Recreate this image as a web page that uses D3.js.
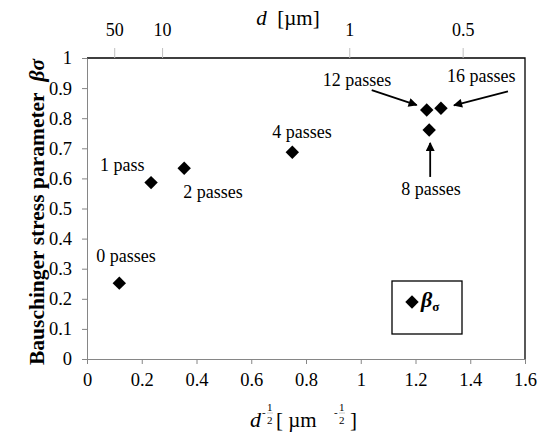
<!DOCTYPE html>
<html lang='en'>
    <head>
        <meta charset="utf-8">
        <script src="https://d3js.org/d3.v7.min.js"></script>
        <style>
            *{
                margin:0;
                padding:0
            }
            body{
                background-color:white;
            }
            svg{
                display:block;
                font-family:'Liberation Serif','Times New Roman',serif;
            }
            .tick text{
                font-family:'Liberation Serif','Times New Roman',serif;
                font-size:18.5px;
                fill:black;
            }
        </style>
    </head>
    <body>
        <script>
            // values: x = d^-1/2, y = beta sigma
            const passes=['0 passes','1 pass','2 passes','4 passes','8 passes','12 passes','16 passes'];
            const xVals=[0.118,0.234,0.355,0.75,1.25,1.241,1.293];
            const yVals=[0.252,0.586,0.634,0.687,0.761,0.827,0.833];
            const xTicks=[0,0.2,0.4,0.6,0.8,1,1.2,1.4,1.6];
            const yTicks=[0,0.1,0.2,0.3,0.4,0.5,0.6,0.7,0.8,0.9,1];
            const topTicks=[50,10,1,0.5];

            const width=537,height=441;
            const pLeft=87,pRight=525,pTop=58,pBottom=359;
            const axisGrey='#868686';

            const svg=d3.select('body').append('svg')
                        .attr('width',width)
                        .attr('height',height);

            const x=d3.scaleLinear().domain([0,1.6]).range([pLeft,pRight]);
            const y=d3.scaleLinear().domain([0,1]).range([pBottom,pTop]);
            // the top d axis sits a little left of the bottom one in the original
            const xTop=d3.scaleLinear().domain([0,1.6]).range([pLeft-11,pRight-11]);

            const minorX=d3.range(0,1.6001,0.04);
            const minorY=d3.range(0,1.0001,0.02);

            // frame: top and right edges are black
            svg.append('path')
               .attr('d',`M${pLeft},${pTop}H${pRight}V${pBottom}`)
               .attr('fill','none')
               .attr('stroke','black')
               .attr('stroke-width',1.3);

            // bottom axis
            const gx=svg.append('g')
                        .attr('transform',`translate(0,${pBottom})`);
            gx.call(d3.axisBottom(x).tickValues(minorX).tickSize(4).tickSizeOuter(0).tickFormat(''));
            gx.call(d3.axisBottom(x).tickValues(xTicks).tickSize(5).tickSizeOuter(0).tickPadding(9).tickFormat(d3.format('')));
            gx.selectAll('path,line').attr('stroke',axisGrey);

            // left axis
            const gy=svg.append('g')
                        .attr('transform',`translate(${pLeft},0)`);
            gy.call(d3.axisLeft(y).tickValues(minorY).tickSize(4).tickSizeOuter(0).tickFormat(''));
            gy.call(d3.axisLeft(y).tickValues(yTicks).tickSize(5).tickSizeOuter(0).tickPadding(10).tickFormat(d3.format('')));
            gy.selectAll('path,line').attr('stroke',axisGrey);

            // top axis in d [um]
            const gt=svg.append('g')
                        .attr('transform',`translate(0,${pTop})`);
            gt.selectAll('line')
              .data(topTicks)
              .enter()
              .append('line')
              .attr('x1',d=>xTop(Math.pow(d,-0.5)))
              .attr('x2',d=>xTop(Math.pow(d,-0.5)))
              .attr('y1',0)
              .attr('y2',-10)
              .attr('stroke','#c0c0c0');
            gt.selectAll('text')
              .data(topTicks)
              .enter()
              .append('text')
              .attr('x',d=>xTop(Math.pow(d,-0.5)))
              .attr('y',-22)
              .attr('text-anchor','middle')
              .attr('font-size',18)
              .text(d=>d);

            const topTitle=svg.append('text')
                              .attr('x',288)
                              .attr('y',25)
                              .attr('text-anchor','middle')
                              .attr('font-size',21);
            topTitle.append('tspan').attr('font-style','italic').text('d');
            topTitle.append('tspan').text('\u00a0\u00a0[\u00b5m]');

            // y title
            const yTitle=svg.append('text')
                            .attr('transform',`translate(44,212) rotate(-90)`)
                            .attr('text-anchor','middle')
                            .attr('font-size',21.5)
                            .attr('font-weight','bold');
            yTitle.append('tspan').text('Bauschinger stress parameter\u00a0\u00a0');
            yTitle.append('tspan').attr('font-style','italic').text('\u03b2\u03c3');

            // x title: d^-1/2 [ um^-1/2 ], the exponent drawn as a small stacked fraction
            const fraction=(g,x0,base)=>{
                g.append('text').attr('x',x0).attr('y',base-11).attr('font-size',11).text('-');
                g.append('text').attr('x',x0+5).attr('y',base-16).attr('font-size',11).text('1');
                g.append('line').attr('x1',x0+5).attr('x2',x0+11).attr('y1',base-14).attr('y2',base-14)
                 .attr('stroke','#bbbbbb').attr('stroke-width',0.8);
                g.append('text').attr('x',x0+5).attr('y',base-3).attr('font-size',11).text('2');
            };
            const xt=svg.append('g');
            const xBase=427;
            xt.append('text').attr('x',250).attr('y',xBase).attr('font-size',22).attr('font-style','italic').text('d');
            fraction(xt,262,xBase);
            xt.append('text').attr('x',276).attr('y',xBase).attr('font-size',21).text('[\u00a0\u00b5m');
            fraction(xt,334,xBase);
            xt.append('text').attr('x',350).attr('y',xBase).attr('font-size',21).text(']');

            // points
            const data=passes.map((p,i)=>({label:p,x:xVals[i],y:yVals[i]}));
            const diamond=d3.symbol().type(d3.symbolSquare).size(90);
            svg.selectAll('.dot')
               .data(data)
               .enter()
               .append('path')
               .attr('class','dot')
               .attr('d',diamond)
               .attr('transform',d=>`translate(${x(d.x)},${y(d.y)}) rotate(45)`)
               .attr('fill','black');

            // label offsets from each point, in px
            const labelOff={
                '0 passes':[-23,-21],
                '1 pass':[-51,-12],
                '2 passes':[-1,30],
                '4 passes':[-20,-14],
                '8 passes':[-28,65],
                '12 passes':[-104,-24],
                '16 passes':[6,-26]
            };
            svg.selectAll('.lbl')
               .data(data)
               .enter()
               .append('text')
               .attr('class','lbl')
               .attr('x',d=>x(d.x)+labelOff[d.label][0])
               .attr('y',d=>y(d.y)+labelOff[d.label][1])
               .attr('font-size',18)
               .text(d=>d.label);

            // arrows
            svg.append('defs').append('marker')
               .attr('id','head')
               .attr('viewBox','0 0 10 10')
               .attr('refX',9)
               .attr('refY',5)
               .attr('markerWidth',5.5)
               .attr('markerHeight',5)
               .attr('orient','auto')
               .append('path')
               .attr('d','M0,0L10,5L0,10Z')
               .attr('fill','black');
            const arrowOff={
                '8 passes':[1,47,1,13],
                '12 passes':[-55,-20,-10,-5],
                '16 passes':[67,-17,13,-3]
            };
            svg.selectAll('.arrow')
               .data(data.filter(d=>arrowOff[d.label]))
               .enter()
               .append('line')
               .attr('class','arrow')
               .attr('x1',d=>x(d.x)+arrowOff[d.label][0])
               .attr('y1',d=>y(d.y)+arrowOff[d.label][1])
               .attr('x2',d=>x(d.x)+arrowOff[d.label][2])
               .attr('y2',d=>y(d.y)+arrowOff[d.label][3])
               .attr('stroke','black')
               .attr('stroke-width',1.8)
               .attr('marker-end','url(#head)');

            // legend
            const lg=svg.append('g').attr('transform','translate(392,281)');
            lg.append('rect')
              .attr('width',70)
              .attr('height',53)
              .attr('fill','white')
              .attr('stroke','black')
              .attr('stroke-width',1.3);
            lg.append('path')
              .attr('d',diamond)
              .attr('transform','translate(20,21) rotate(45)')
              .attr('fill','black');
            const lt=lg.append('text')
                       .attr('x',29)
                       .attr('y',26)
                       .attr('font-weight','bold');
            lt.append('tspan').attr('font-size',22).attr('font-style','italic').text('\u03b2');
            lt.append('tspan').attr('font-size',13).attr('dy',4).text('\u03c3');
        </script>
    </body>
</html>
